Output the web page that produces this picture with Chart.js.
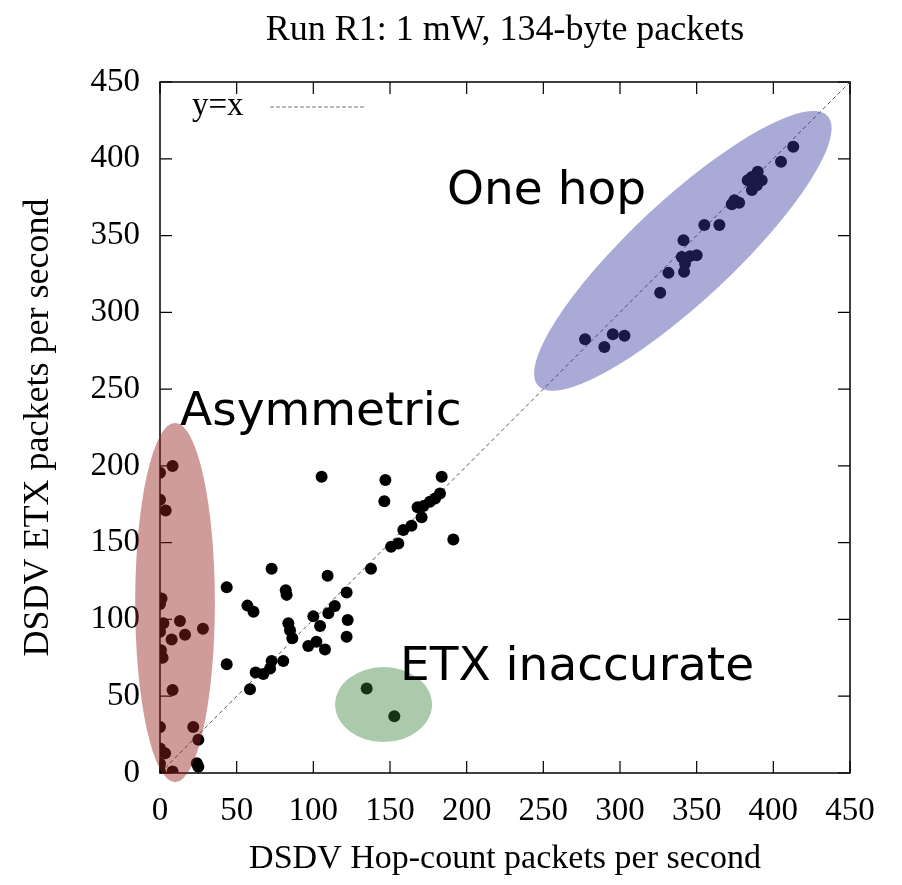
<!DOCTYPE html>
<html>
<head>
<meta charset="utf-8">
<script src="https://cdn.jsdelivr.net/npm/chart.js@4/dist/chart.umd.min.js"></script>
<style>
  html, body { margin: 0; padding: 0; background: #fff; }
  #wrap { width: 902px; height: 885px; }
</style>
</head>
<body>
<div id="wrap"><canvas id="chart" width="902" height="885"></canvas></div>
<script>
// Hop-count vs ETX throughput (packets per second), one point per pair
const hopCount = [
  // asymmetric links
  8.2, 0, 0, 3.7, 0, 1, 2.2, 13, 0, 7.6, 16.3, 28, 0.6, 1.7, 8.2, 0, 21.7, 25, 0, 3.3, 24, 25, 0, 0, 8.2,
  // multi-hop
  43.5, 72.8, 57, 61, 82, 82.6, 83.7, 84.8, 86.3, 43.5, 58.7, 62.4, 67.4, 71.8, 72.8, 80.4, 100, 96.7,
  105.4, 147, 183.7, 146.3, 182.6, 179.4, 176, 171.8, 168, 170.6, 164, 158.7, 155.4, 150.7, 191.3,
  137.6, 109.3, 121.7, 114, 109.8, 104.4, 122.4, 121.7, 102, 107.6,
  // ETX inaccurate
  134.8, 152.8,
  // one hop
  413, 405, 389.8, 386, 383.3, 392.4, 389.2, 386, 374.6, 372.9, 377.7, 355, 364.8, 341.4,
  340.3, 345.7, 350, 342.4, 341.8, 331.6, 326.2, 295.3, 302.9, 277.2, 289.8
]
const etx = [
  200, 195.5, 178, 171, 110, 113.7, 97.5, 99, 92, 87, 90, 94, 80, 75, 54, 30, 30, 21.6, 16, 12.8, 6.3, 4, 6, 1, 1,
  121, 133, 109, 105, 119, 116, 97.5, 93, 87.7, 70.8, 54.5, 65.5, 64.5, 68, 73, 73, 102, 82.7,
  193, 190.8, 193, 177, 182, 178.8, 176.6, 173.8, 173, 166.5, 161, 158.2, 149.5, 147.3, 152,
  133, 128.5, 117.6, 108.7, 104, 95.7, 99.6, 88.7, 85.5, 80.5,
  55, 37,
  407.8, 398, 391.5, 388.2, 386, 386, 382.8, 379.6, 373, 370.4, 371.3, 356.8, 356.8, 347,
  336, 336.6, 337.2, 331.8, 326.4, 325.7, 312.7, 285.8, 284.7, 282.4, 277.5
]
const tickValues = [0, 50, 100, 150, 200, 250, 300, 350, 400, 450]
const diagonal = [0, 450]

// highlighted regions: centre and radii in data units, angle in degrees
const regions = [
  { label: "Asymmetric", cx: 9.8, cy: 111, rx: 26, ry: 117, angle: 0, color: "rgba(150, 35, 30, 0.45)" },
  { label: "ETX inaccurate", cx: 145.8, cy: 44.6, rx: 31.6, ry: 24.4, angle: 0, color: "rgba(50, 125, 50, 0.41)" },
  { label: "One hop", cx: 341, cy: 340, rx: 129, ry: 33, angle: 43, color: "rgba(58, 58, 163, 0.43)" }
]
const notes = [
  { text: "One hop", x: 447, y: 192 },
  { text: "Asymmetric", x: 180, y: 413 },
  { text: "ETX inaccurate", x: 400, y: 668 }
]

const serif = "'Liberation Serif', 'Times New Roman', serif"

const framePlugin = {
  id: "frame",
  beforeDatasetsDraw(chart) {
    const { ctx, chartArea: a, scales } = chart
    ctx.save()
    ctx.strokeStyle = "#000"
    ctx.lineWidth = 1.5
    ctx.strokeRect(a.left, a.top, a.right - a.left, a.bottom - a.top)
    ctx.lineWidth = 1.2
    const len = 12
    ctx.beginPath()
    tickValues.forEach(v => {
      const px = scales.x.getPixelForValue(v)
      const py = scales.y.getPixelForValue(v)
      ctx.moveTo(px, a.bottom); ctx.lineTo(px, a.bottom - len)
      ctx.moveTo(px, a.top); ctx.lineTo(px, a.top + len)
      ctx.moveTo(a.left, py); ctx.lineTo(a.left + len, py)
      ctx.moveTo(a.right, py); ctx.lineTo(a.right - len, py)
    })
    ctx.stroke()
    ctx.restore()
  },
  afterDraw(chart) {
    const { ctx, chartArea: a, scales } = chart
    const x = scales.x, y = scales.y
    ctx.save()
    regions.forEach(r => {
      const cx = x.getPixelForValue(r.cx)
      const cy = y.getPixelForValue(r.cy)
      const rx = Math.abs(x.getPixelForValue(r.cx + r.rx) - cx)
      const ry = Math.abs(y.getPixelForValue(r.cy + r.ry) - cy)
      ctx.beginPath()
      ctx.ellipse(cx, cy, rx, ry, -r.angle * Math.PI / 180, 0, Math.PI * 2)
      ctx.fillStyle = r.color
      ctx.fill()
    })
    // legend for the diagonal
    ctx.fillStyle = "#000"
    ctx.font = "33px " + serif
    ctx.textBaseline = "middle"
    ctx.textAlign = "left"
    ctx.fillText("y=x", a.left + 32, a.top + 24)
    ctx.strokeStyle = "#777"
    ctx.lineWidth = 1
    ctx.setLineDash([4, 2])
    ctx.beginPath()
    ctx.moveTo(a.left + 110, a.top + 25)
    ctx.lineTo(a.left + 206, a.top + 25)
    ctx.stroke()
    ctx.setLineDash([])
    // region notes
    ctx.font = "47px 'DejaVu Sans', sans-serif"
    notes.forEach(n => ctx.fillText(n.text, n.x, n.y))
    ctx.restore()
  }
}

new Chart(document.getElementById("chart"), {
  type: "scatter",
  data: {
    datasets: [
      {
        label: "links",
        data: hopCount.map((v, i) => ({ x: v, y: etx[i] })),
        backgroundColor: "#000",
        borderWidth: 0,
        pointRadius: 6
      },
      {
        label: "y=x",
        type: "line",
        data: diagonal.map(v => ({ x: v, y: v })),
        borderColor: "#555",
        borderWidth: 1,
        borderDash: [4, 3],
        pointRadius: 0,
        fill: false
      }
    ]
  },
  options: {
    responsive: false,
    animation: false,
    events: [],
    layout: { padding: { top: 0, right: 52, bottom: 0, left: 0 } },
    plugins: {
      legend: { display: false },
      tooltip: { enabled: false },
      title: {
        display: true,
        fullSize: false,
        text: "Run R1: 1 mW, 134-byte packets",
        color: "#000",
        font: { family: serif, size: 36, weight: "normal" },
        padding: { top: 9, bottom: 29.8 }
      }
    },
    scales: {
      x: {
        type: "linear",
        min: 0,
        max: 450,
        afterFit: s => { s.height = 112 },
        afterBuildTicks: s => { s.ticks = tickValues.map(v => ({ value: v })) },
        grid: { display: false, drawTicks: false },
        border: { display: false },
        ticks: { color: "#000", padding: 19, font: { family: serif, size: 33 } },
        title: {
          display: true,
          text: "DSDV Hop-count packets per second",
          color: "#000",
          font: { family: serif, size: 34 },
          padding: { top: 0, bottom: 6 }
        }
      },
      y: {
        type: "linear",
        min: 0,
        max: 450,
        afterFit: s => { s.width = 160 },
        afterBuildTicks: s => { s.ticks = tickValues.map(v => ({ value: v })) },
        grid: { display: false, drawTicks: false },
        border: { display: false },
        ticks: { color: "#000", padding: 20, font: { family: serif, size: 33 } },
        title: {
          display: true,
          text: "DSDV ETX packets per second",
          color: "#000",
          font: { family: serif, size: 36 },
          padding: { top: 17, bottom: 0 }
        }
      }
    }
  },
  plugins: [framePlugin]
})
</script>
</body>
</html>
